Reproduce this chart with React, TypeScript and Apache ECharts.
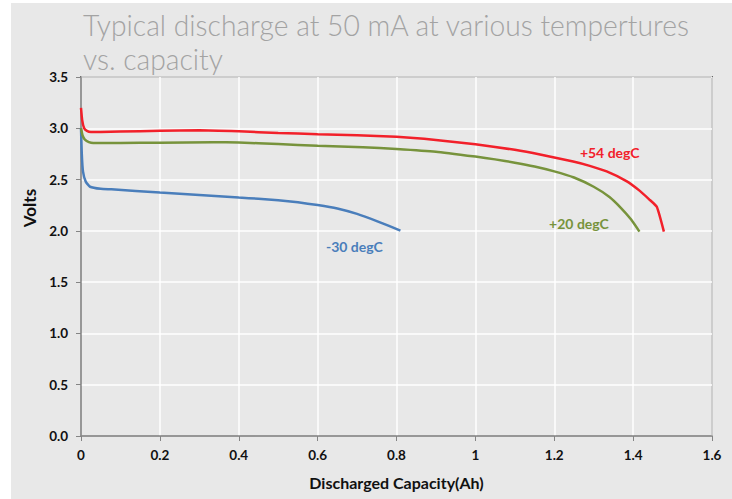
import React, { useEffect, useRef } from "react";
import * as echarts from "echarts";

const titleLines = ["Typical discharge at 50 mA at various tempertures", "vs. capacity"];
const xTicks = { min: 0, max: 1.6, interval: 0.2 };
const yTicks = { min: 0, max: 3.5, interval: 0.5 };
const xName = "Discharged Capacity(Ah)";
const yName = "Volts";

const seriesNames = ["+54 degC", "+20 degC", "-30 degC"];
const seriesColors = ["#f2202a", "#77933c", "#4a7ebb"];

const hot: [number, number][] = [
  [0, 3.2], [0.003, 3.08], [0.008, 3.0], [0.015, 2.975], [0.025, 2.965], [0.05, 2.965],
  [0.1, 2.968], [0.2, 2.975], [0.3, 2.98], [0.4, 2.97], [0.5, 2.955], [0.6, 2.943],
  [0.7, 2.933], [0.8, 2.918], [0.87, 2.898], [1.0, 2.845], [1.1, 2.79], [1.164, 2.745],
  [1.248, 2.676], [1.29, 2.634], [1.333, 2.579], [1.383, 2.485], [1.417, 2.39],
  [1.44, 2.31], [1.46, 2.235], [1.478, 1.993],
];
const room: [number, number][] = [
  [0, 3.0], [0.004, 2.93], [0.01, 2.89], [0.02, 2.865], [0.031, 2.856], [0.1, 2.857],
  [0.2, 2.859], [0.335, 2.865], [0.4, 2.862], [0.5, 2.846], [0.6, 2.83], [0.715, 2.816],
  [0.8, 2.799], [0.9, 2.772], [1.0, 2.724], [1.05, 2.697], [1.1, 2.665], [1.15, 2.627],
  [1.2, 2.58], [1.25, 2.52], [1.3, 2.43], [1.34, 2.33], [1.37, 2.22], [1.395, 2.11],
  [1.416, 1.993],
];
const cold: [number, number][] = [
  [0, 3.0], [0.002, 2.75], [0.005, 2.58], [0.012, 2.48], [0.023, 2.43], [0.05, 2.41],
  [0.077, 2.405], [0.2, 2.374], [0.3, 2.35], [0.4, 2.325], [0.45, 2.313], [0.5, 2.298],
  [0.55, 2.278], [0.6, 2.252], [0.65, 2.218], [0.7, 2.165], [0.75, 2.095], [0.81, 2.003],
];
const seriesData = [hot, room, cold];
// label anchor (left edge, vertical centre) in data coordinates
const labelAnchors: [number, number][] = [[1.265, 2.764], [1.187, 2.068], [0.621, 1.844]];

const TITLE_FONT_SIZE = 30;
const TITLE_FAMILY = "Lato";
const TITLE_WEIGHT = 300;
const TITLE_TARGET_WIDTH = 608;

function measure(text: string, font: string): number {
  const c = document.createElement("canvas");
  const ctx = c.getContext("2d");
  if (!ctx) return 1;
  ctx.font = font;
  return ctx.measureText(text).width || 1;
}

export default function App() {
  const ref = useRef<HTMLDivElement>(null);
  useEffect(() => {
    document.body.style.margin = "0";
    if (!ref.current) return;
    const chart = echarts.init(ref.current, null, { renderer: "svg" });
    const titleScale =
      TITLE_TARGET_WIDTH / measure(titleLines[0], `${TITLE_WEIGHT} ${TITLE_FONT_SIZE}px ${TITLE_FAMILY}`);
    const labelFont = "Lato";
    const tickColor = "#848484";
    const textColor = "#111111";

    chart.setOption({
      animation: false,
      backgroundColor: "#ffffff",
      graphic: [
        { type: "rect", z: -10, silent: true, shape: { x: 11, y: 3, width: 721, height: 496 }, style: { fill: "#e8e8e8" } },
        ...titleLines.map((t, i) => ({
          type: "text",
          x: 83,
          y: 24 + i * 34,
          scaleX: titleScale,
          style: {
            text: t,
            fill: "#a3a3a3",
            fontFamily: TITLE_FAMILY,
            fontWeight: TITLE_WEIGHT,
            fontSize: TITLE_FONT_SIZE,
            verticalAlign: "middle",
            align: "left",
          },
        })),
        {
          type: "text",
          x: 29,
          y: 208,
          rotation: Math.PI / 2,
          style: {
            text: yName,
            fill: textColor,
            fontFamily: labelFont,
            fontWeight: "bold",
            fontSize: 17,
            align: "center",
            verticalAlign: "middle",
          },
        },
      ],
      grid: {
        left: 81,
        right: 20,
        top: 77,
        bottom: 63,
        containLabel: false,
        outerBoundsMode: "none",
        show: true,
        borderColor: "#000",
        borderWidth: 1.5,
        backgroundColor: "transparent",
      },
      xAxis: {
        type: "value",
        min: xTicks.min,
        max: xTicks.max,
        interval: xTicks.interval,
        name: xName,
        nameLocation: "middle",
        nameGap: 38,
        nameTextStyle: { fontFamily: labelFont, fontWeight: "bold", fontSize: 16, color: textColor },
        axisLine: { show: true, lineStyle: { color: tickColor, width: 1.5 } },
        axisTick: { show: true, length: 5, lineStyle: { color: tickColor, width: 1 } },
        axisLabel: {
          margin: 12,
          fontFamily: labelFont,
          fontWeight: "bold",
          fontSize: 13.5,
          color: textColor,
          formatter: (v: number) => String(+v.toFixed(1)),
        },
        splitLine: { show: true, lineStyle: { color: "#ffffff", width: 1.5 } },
      },
      yAxis: {
        type: "value",
        min: yTicks.min,
        max: yTicks.max,
        interval: yTicks.interval,
        axisLine: { show: true, lineStyle: { color: tickColor, width: 1.5 } },
        axisTick: { show: true, length: 5, lineStyle: { color: tickColor, width: 1 } },
        axisLabel: {
          margin: 13,
          fontFamily: labelFont,
          fontWeight: "bold",
          fontSize: 13.5,
          color: textColor,
          formatter: (v: number) => v.toFixed(1),
        },
        splitLine: { show: true, lineStyle: { color: "#ffffff", width: 1.5 } },
      },
      series: seriesData.map((d, i) => ({
        type: "line",
        name: seriesNames[i],
        data: d,
        showSymbol: false,
        smooth: 0.15,
        lineStyle: { color: seriesColors[i], width: 2.5 },
        itemStyle: { color: seriesColors[i] },
        z: 3 - i,
        markPoint: {
          symbol: "circle",
          symbolSize: 0,
          silent: true,
          data: [
            {
              coord: labelAnchors[i],
              label: {
                show: true,
                position: "right",
                distance: 0,
                formatter: seriesNames[i],
                color: seriesColors[i],
                fontFamily: labelFont,
                fontWeight: "bold",
                fontSize: 14,
              },
            },
          ],
        },
      })),
    });
    return () => chart.dispose();
  }, []);
  return <div ref={ref} style={{ width: 732, height: 499 }} />;
}
